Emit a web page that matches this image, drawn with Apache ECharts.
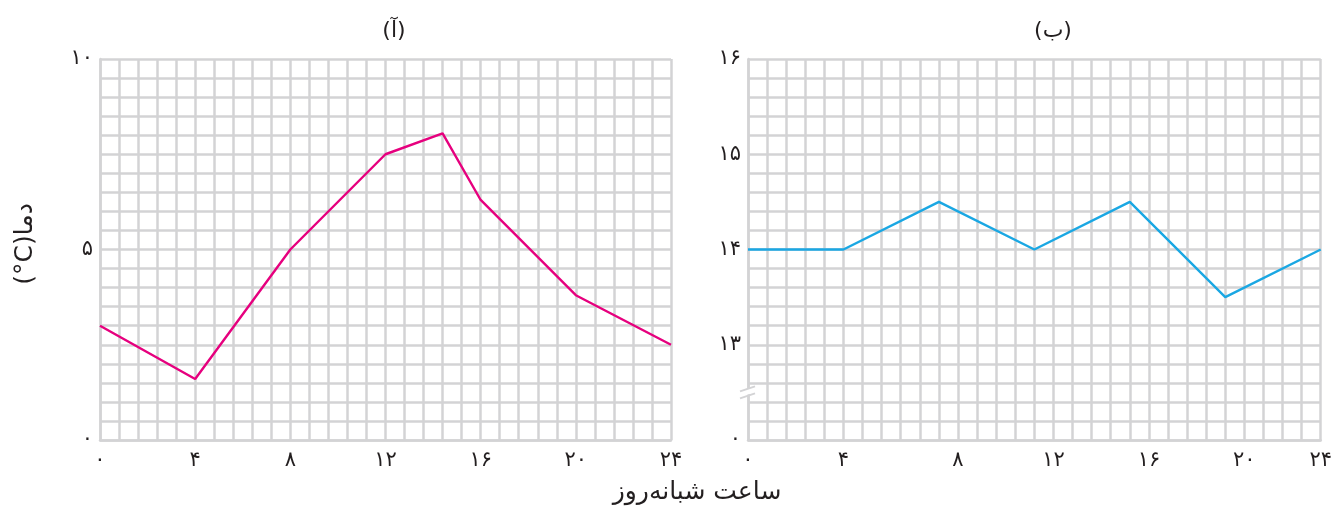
<!DOCTYPE html>
<html>
<head>
<meta charset="utf-8">
<script src="https://cdn.jsdelivr.net/npm/echarts@6/dist/echarts.min.js"></script>
<style>html,body{margin:0;padding:0;background:#fff}#c{width:1335px;height:512px}</style>
</head>
<body>
<div id="c"></div>
<script>
// Chart (آ)
const hoursA = [0, 4, 8, 12, 14.4, 16, 20, 24];
const tempA = [3.0, 1.6, 5.0, 7.5, 8.05, 6.3, 3.8, 2.5];
// Chart (ب)
const hoursB = [0, 4, 8, 12, 16, 20, 24];
const tempB = [14, 14, 14.5, 14, 14.5, 13.5, 14];

// tick labels
const xTickValuesA = [0, 4, 8, 12, 16, 20, 24];
const xTickLabelsA = ['۰', '۴', '۸', '۱۲', '۱۶', '۲۰', '۲۴'];
const xTickValuesB = [0, 4, 8.8, 12.8, 16.8, 20.8, 24];
const xTickLabelsB = ['۰', '۴', '۸', '۱۲', '۱۶', '۲۰', '۲۴'];
const yTickValuesA = [0, 5, 10];
const yTickLabelsA = ['۰', '۵', '۱۰'];
const yTickValuesB = [12, 13, 14, 15, 16];
const yTickLabelsB = ['۰', '۱۳', '۱۴', '۱۵', '۱۶'];

const titleA = '(آ)';
const titleB = '(ب)';
const xName = 'ساعت شبانه‌روز';
const yName = '(°C)دما';

const GRID = '#d3d3d5';
const TXT = '#231f20';
const FONT = 'DejaVu Sans';

function lookup(vals, labs) {
  return function (v) {
    for (let i = 0; i < vals.length; i++) if (Math.abs(v - vals[i]) < 1e-6) return labs[i];
    return '';
  };
}
function xAxis(gi, vals, labs) {
  return {
    type: 'value', gridIndex: gi, min: 0, max: 24, interval: 0.8,
    axisLine: { show: true, lineStyle: { color: GRID, width: 2.5 } },
    axisTick: { show: false },
    splitLine: { show: true, lineStyle: { color: GRID, width: 2.5 } },
    axisLabel: { formatter: lookup(vals, labs), margin: 10, color: TXT, fontFamily: FONT, fontSize: 21 }
  };
}
function yAxis(gi, min, max, itv, vals, labs) {
  return {
    type: 'value', gridIndex: gi, min: min, max: max, interval: itv,
    axisLine: { show: true, lineStyle: { color: GRID, width: 2.5 } },
    axisTick: { show: false },
    splitLine: { show: true, lineStyle: { color: GRID, width: 2.5 } },
    axisLabel: { formatter: lookup(vals, labs), margin: 7, color: TXT, fontFamily: FONT, fontSize: 21 }
  };
}

function texts() {
  return [
    { type: 'text', x: 394, y: 31, style: { text: titleA, fill: TXT, font: '22px "DejaVu Sans"', align: 'center', verticalAlign: 'middle' } },
    { type: 'text', x: 1053, y: 31, style: { text: titleB, fill: TXT, font: '22px "DejaVu Sans"', align: 'center', verticalAlign: 'middle' } },
    { type: 'text', x: 697, y: 492, style: { text: xName, fill: TXT, font: '25px "DejaVu Sans"', align: 'center', verticalAlign: 'middle' } },
    { type: 'text', x: 25, y: 244, rotation: Math.PI / 2, style: { text: yName, fill: TXT, font: '25px "DejaVu Sans"', align: 'center', verticalAlign: 'middle' } }
  ];
}

const chart = echarts.init(document.getElementById('c'), null, { renderer: 'canvas' });
chart.setOption({
  animation: false,
  backgroundColor: '#fff',
  grid: [
    { left: 100, top: 59, width: 571, height: 381 },
    { left: 748, top: 59, width: 575, height: 381 }
  ],
  xAxis: [xAxis(0, xTickValuesA, xTickLabelsA), xAxis(1, xTickValuesB, xTickLabelsB)],
  yAxis: [yAxis(0, 0, 10, 0.5, yTickValuesA, yTickLabelsA), yAxis(1, 12, 16, 0.2, yTickValuesB, yTickLabelsB)],
  series: [
    { type: 'line', xAxisIndex: 0, yAxisIndex: 0, data: hoursA.map((h, i) => [h, tempA[i]]),
      symbol: 'none', lineStyle: { color: '#e6007e', width: 2.4 }, z: 5 },
    { type: 'line', xAxisIndex: 1, yAxisIndex: 1, data: hoursB.map((h, i) => [h, tempB[i]]),
      symbol: 'none', lineStyle: { color: '#1aa7e3', width: 2.4 }, z: 5 }
  ],
  graphic: texts()
});

// axis break mark on chart (ب)
const p = chart.convertToPixel({ gridIndex: 1 }, [0, 12.5]);
const bx = p[0], by = p[1];
chart.setOption({
  graphic: texts().concat([
    { type: 'polygon', shape: { points: [[bx - 3, by + 3], [bx + 3, by + 1], [bx + 3, by - 5], [bx - 3, by - 3]] }, style: { fill: '#fff' }, z: 100 },
    { type: 'line', shape: { x1: bx - 8, y1: by - 1, x2: bx + 7, y2: by - 6 }, style: { stroke: GRID, lineWidth: 2 }, z: 101 },
    { type: 'line', shape: { x1: bx - 8, y1: by + 6, x2: bx + 7, y2: by + 1 }, style: { stroke: GRID, lineWidth: 2 }, z: 101 }
  ])
});
</script>
</body>
</html>
